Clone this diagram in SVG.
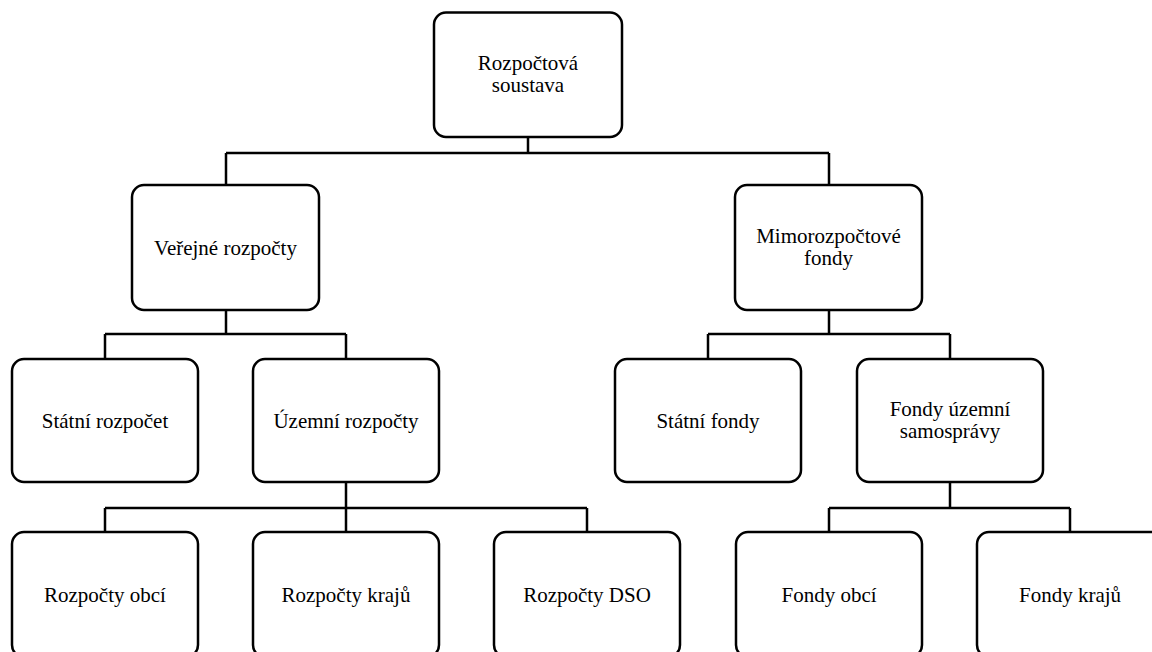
<svg xmlns="http://www.w3.org/2000/svg" width="1152" height="652" viewBox="0 0 1152 652">
<style>
.box{fill:#fff;stroke:#000;stroke-width:2.5}
.c{fill:none;stroke:#000;stroke-width:2.5}
.t{font-family:'Liberation Serif','Times New Roman','DejaVu Serif',serif;font-size:21px;fill:#000;text-anchor:middle}
</style>
<rect width="1152" height="652" fill="#fff"/>
<g id="connectors">
<path class="c" d="M528,137V153M226,153H829M226,153V185M829,153V185"/>
<path class="c" d="M226,310V334M105,334H346M105,334V359M346,334V359"/>
<path class="c" d="M829,310V334M708,334H950M708,334V359M950,334V359"/>
<path class="c" d="M346,482V508M105,508H587M105,508V532M346,508V532M587,508V532"/>
<path class="c" d="M950,482V508M829,508H1070M829,508V532M1070,508V532"/>
</g>
<g id="n-root"><rect class="box" x="434" y="12.5" width="188" height="124.5" rx="12"/><text class="t" x="528" y="70">Rozpočtová</text><text class="t" x="528" y="92">soustava</text></g>
<g id="n-verejne"><rect class="box" x="132" y="185" width="187" height="125" rx="12"/><text class="t" x="225.5" y="255">Veřejné rozpočty</text></g>
<g id="n-mimo"><rect class="box" x="735" y="185" width="187" height="125" rx="12"/><text class="t" x="828.5" y="243">Mimorozpočtové</text><text class="t" x="828.5" y="265">fondy</text></g>
<g id="n-statni-rozpocet"><rect class="box" x="12" y="359" width="186" height="123" rx="12"/><text class="t" x="105" y="428">Státní rozpočet</text></g>
<g id="n-uzemni"><rect class="box" x="253" y="359" width="186" height="123" rx="12"/><text class="t" x="346" y="428">Územní rozpočty</text></g>
<g id="n-statni-fondy"><rect class="box" x="615" y="359" width="186" height="123" rx="12"/><text class="t" x="708" y="428">Státní fondy</text></g>
<g id="n-fondy-uzemni"><rect class="box" x="857" y="359" width="186" height="123" rx="12"/><text class="t" x="950" y="416">Fondy územní</text><text class="t" x="950" y="438">samosprávy</text></g>
<g id="n-rozp-obci"><rect class="box" x="12" y="532" width="186" height="125" rx="12"/><text class="t" x="105" y="602">Rozpočty obcí</text></g>
<g id="n-rozp-kraju"><rect class="box" x="253" y="532" width="186" height="125" rx="12"/><text class="t" x="346" y="602">Rozpočty krajů</text></g>
<g id="n-rozp-dso"><rect class="box" x="494" y="532" width="186" height="125" rx="12"/><text class="t" x="587" y="602">Rozpočty DSO</text></g>
<g id="n-fondy-obci"><rect class="box" x="736" y="532" width="186" height="125" rx="12"/><text class="t" x="829" y="602">Fondy obcí</text></g>
<g id="n-fondy-kraju"><rect class="box" x="977" y="532" width="186" height="125" rx="12"/><text class="t" x="1070" y="602">Fondy krajů</text></g>
</svg>
